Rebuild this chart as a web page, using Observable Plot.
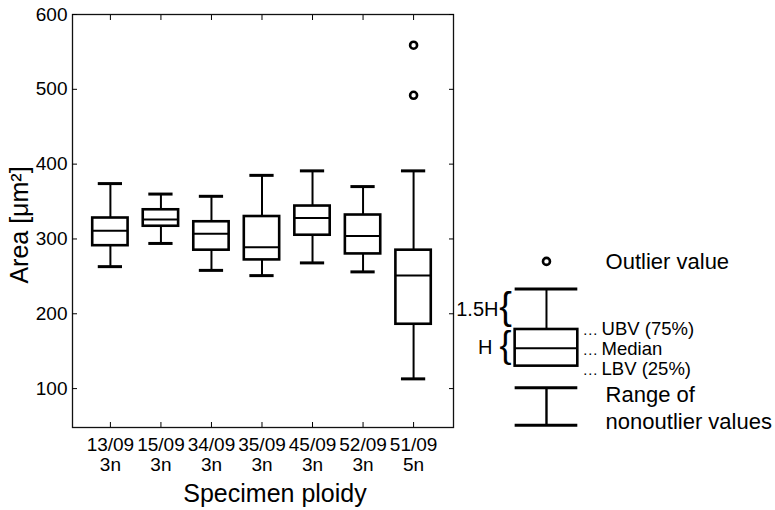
<!DOCTYPE html>
<html><head><meta charset="utf-8">
<script src="https://cdn.jsdelivr.net/npm/d3@7"></script>
<script src="https://cdn.jsdelivr.net/npm/@observablehq/plot@0.6"></script>
<style>body{margin:0;background:#fff}</style>
</head><body><div id="chart"></div>
<script>
// ---- data ----
const specimens   = ["13/09","15/09","34/09","35/09","45/09","52/09","51/09"];
const ploidy      = ["3n","3n","3n","3n","3n","3n","5n"];
const whiskerLow  = [263, 294, 258, 251, 268, 256, 113];
const lowerQuart  = [291, 317, 285, 272, 305, 280, 186];
const medians     = [311, 326, 307, 289, 328, 304, 251];
const upperQuart  = [328, 339, 323, 330, 344, 332, 285];
const whiskerHigh = [374, 360, 357, 385, 391, 370, 391];
const outlierGroup  = [7, 7];
const outlierValues = [559, 492];
const yTicks = [100, 200, 300, 400, 500, 600];

// schematic legend box (in the chart's value units)
const legendOutlier = [270];
const legendWhiskerHigh = [233];
const legendUpper = [179];
const legendMedian = [154];
const legendLower = [130];
const legendRange = [101, 51];
const legendLabels = ["UBV (75%)", "Median", "LBV (25%)"];

// ---- tables ----
const boxes = specimens.map((s, i) => ({
  pos: i + 1, lo: whiskerLow[i], q1: lowerQuart[i], med: medians[i], q3: upperQuart[i], hi: whiskerHigh[i]
}));
const outliers = outlierGroup.map((g, i) => ({pos: g, v: outlierValues[i]}));

const LX = 9.63;       // legend box position on the x scale
const LT = 10.8;       // legend text position
const BW = 0.35, CW = 0.24, LW = 0.62;
const legendBox = [{pos: LX, q1: legendLower[0], med: legendMedian[0], q3: legendUpper[0], hi: legendWhiskerHigh[0]}];
const legendBar = [{pos: LX, hi: legendRange[0], lo: legendRange[1]}];
const font = "Liberation Sans, Arial, Helvetica, sans-serif";

const chart = Plot.plot({
  width: 775, height: 510,
  marginLeft: 72, marginRight: 322, marginTop: 14, marginBottom: 83,
  style: {fontFamily: font, fontSize: "19px", background: "#fff", color: "#000"},
  x: {domain: [0.25, 7.79]},
  y: {domain: [48, 600]},
  marks: [
    Plot.frame({stroke: "#111", strokeWidth: 1.3}),
    // axes: labels + inward ticks
    Plot.axisY({ticks: yTicks, tickSize: 0, tickPadding: 5, fontSize: 19, label: null}),
    Plot.axisY({ticks: yTicks, tickSize: -5, tickFormat: () => "", label: null}),
    Plot.axisY({anchor: "right", ticks: yTicks, tickSize: -5, tickFormat: () => "", label: null}),
    Plot.axisX({ticks: boxes.map(d => d.pos), tickSize: 0, tickPadding: 10, fontSize: 19, lineHeight: 1.02,
      tickFormat: d => specimens[d - 1] + "\n" + ploidy[d - 1], label: null}),
    Plot.axisX({ticks: boxes.map(d => d.pos), tickSize: -5, tickFormat: () => "", label: null}),
    Plot.axisX({anchor: "top", ticks: boxes.map(d => d.pos), tickSize: -5, tickFormat: () => "", label: null}),
    Plot.text(["Specimen ploidy"], {frameAnchor: "bottom", textAnchor: "middle", lineAnchor: "middle", dx: 12, dy: 66, fontSize: 25}),
    Plot.text(["Area [μm²]"], {frameAnchor: "left", textAnchor: "middle", lineAnchor: "middle", rotate: -90, dx: -53, dy: 4, fontSize: 25}),

    // box plots
    Plot.ruleX(boxes, {x: "pos", y1: "lo", y2: "q1", stroke: "#000", strokeWidth: 2}),
    Plot.ruleX(boxes, {x: "pos", y1: "q3", y2: "hi", stroke: "#000", strokeWidth: 2}),
    Plot.ruleY(boxes, {y: "lo", x1: d => d.pos - CW, x2: d => d.pos + CW, stroke: "#000", strokeWidth: 3}),
    Plot.ruleY(boxes, {y: "hi", x1: d => d.pos - CW, x2: d => d.pos + CW, stroke: "#000", strokeWidth: 3}),
    Plot.rect(boxes, {x1: d => d.pos - BW, x2: d => d.pos + BW, y1: "q1", y2: "q3", fill: "#fff", stroke: "#000", strokeWidth: 2.6}),
    Plot.ruleY(boxes, {y: "med", x1: d => d.pos - BW, x2: d => d.pos + BW, stroke: "#000", strokeWidth: 2}),
    Plot.dot(outliers, {x: "pos", y: "v", r: 3.5, fill: "#fff", stroke: "#000", strokeWidth: 2.6}),

    // legend schematic
    Plot.dot(legendOutlier, {x: () => LX, y: d => d, r: 3.5, fill: "#fff", stroke: "#000", strokeWidth: 2.6}),
    Plot.ruleX(legendBox, {x: "pos", y1: "q3", y2: "hi", stroke: "#000", strokeWidth: 2}),
    Plot.ruleY(legendBox, {y: "hi", x1: d => d.pos - LW, x2: d => d.pos + LW, stroke: "#000", strokeWidth: 3}),
    Plot.rect(legendBox, {x1: d => d.pos - LW, x2: d => d.pos + LW, y1: "q1", y2: "q3", fill: "#fff", stroke: "#000", strokeWidth: 2.6}),
    Plot.ruleY(legendBox, {y: "med", x1: d => d.pos - LW, x2: d => d.pos + LW, stroke: "#000", strokeWidth: 2}),
    Plot.ruleX(legendBar, {x: "pos", y1: "lo", y2: "hi", stroke: "#000", strokeWidth: 2.4}),
    Plot.ruleY(legendBar, {y: "hi", x1: d => d.pos - LW, x2: d => d.pos + LW, stroke: "#000", strokeWidth: 3}),
    Plot.ruleY(legendBar, {y: "lo", x1: d => d.pos - LW, x2: d => d.pos + LW, stroke: "#000", strokeWidth: 3}),
    Plot.text(["Outlier value"], {x: LT, y: legendOutlier[0], textAnchor: "start", fontSize: 22, dy: 1}),
    Plot.text([legendLabels.join("\n")], {x: LT - 0.08, y: legendMedian[0], textAnchor: "start", lineAnchor: "middle", fontSize: 18.5, lineHeight: 1.08}),
    Plot.text([legendLabels.map(() => "···").join("\n")], {x: LT - 0.45, y: legendMedian[0], textAnchor: "start", lineAnchor: "middle", fontSize: 15, lineHeight: 1.33, dy: 3}),
    Plot.text(["Range of\nnonoutlier values"], {x: LT, y: (legendRange[0] + legendRange[1]) / 2, textAnchor: "start", fontSize: 22, lineHeight: 1.25, dy: 0}),
    Plot.text(["1.5H"], {x: 8.68, y: (legendWhiskerHigh[0] + legendUpper[0]) / 2, textAnchor: "end", fontSize: 20}),
    Plot.text(["H"], {x: 8.56, y: (legendUpper[0] + legendLower[0]) / 2, textAnchor: "end", fontSize: 20}),
    Plot.text(["{"], {x: 8.82, y: (legendWhiskerHigh[0] + legendUpper[0]) / 2, fontSize: 38, fontWeight: 300, dy: -2}),
    Plot.text(["{"], {x: 8.82, y: (legendUpper[0] + legendLower[0]) / 2, fontSize: 36, fontWeight: 300, dy: -2})
  ]
});
document.getElementById("chart").appendChild(chart);
</script>
</body></html>
